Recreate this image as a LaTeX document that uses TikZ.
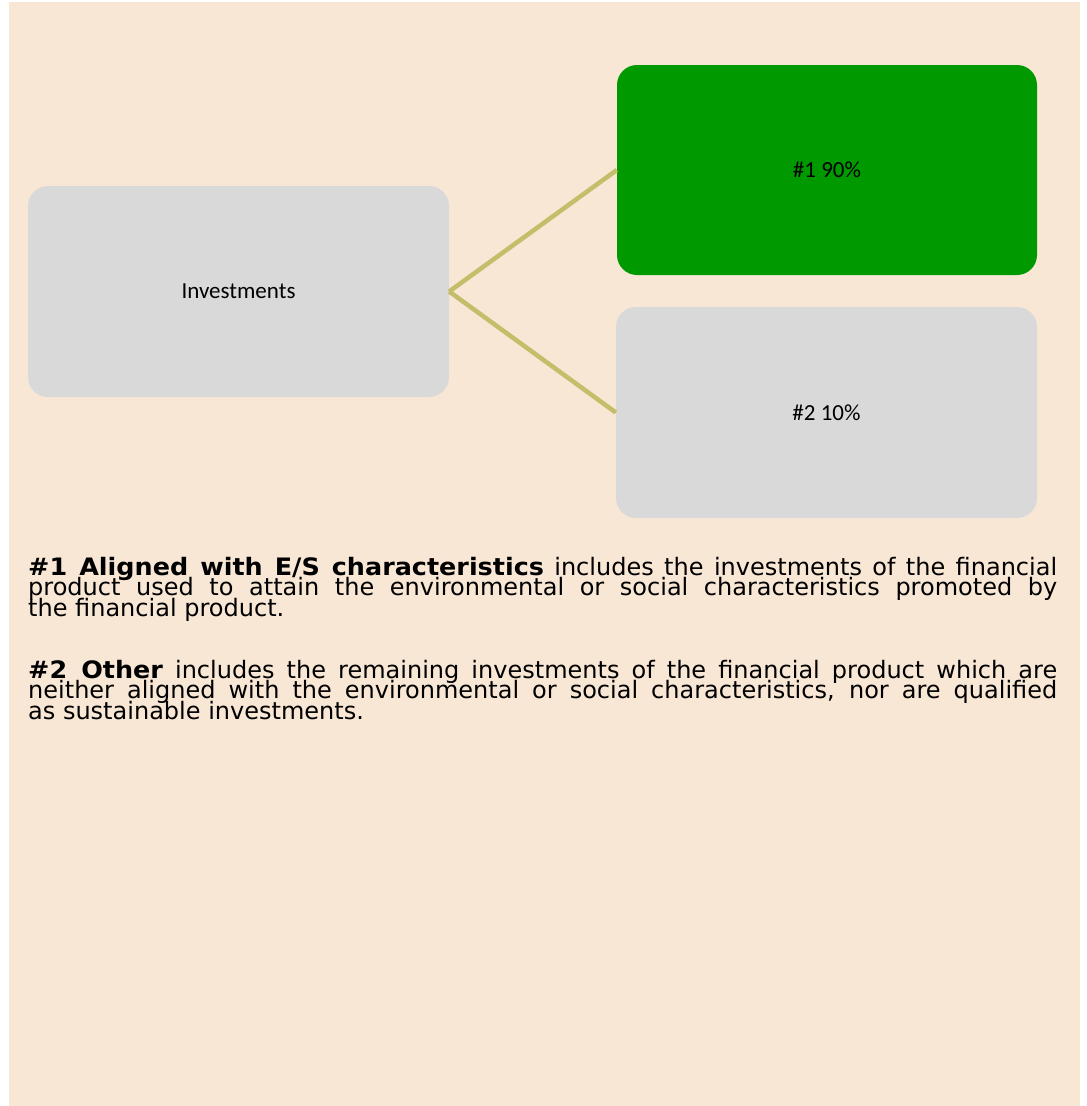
\documentclass[tikz,border=0pt]{standalone}
\usepackage{fontspec}
\setmainfont{DejaVu Sans}[BoldFeatures={FakeStretch=1.06}]
\newfontfamily\labelfont{Carlito}
\usetikzlibrary{positioning}
\definecolor{bgbeige}{RGB}{249,231,214}
\definecolor{boxgray}{RGB}{217,217,217}
\definecolor{boxgreen}{RGB}{0,153,0}
\definecolor{linkolive}{RGB}{196,189,106}

\begin{document}
\begin{tikzpicture}[x=1pt, y=-1pt,
        box/.style={rounded corners=20pt, minimum width=421pt, minimum height=211pt, inner sep=0pt,
            font=\labelfont\fontsize{23}{27}\selectfont, text=black},
        link/.style={line width=4.5pt, linkolive},
        note/.style={anchor=north west, inner sep=0pt, text width=1029pt, align=justify,
            font={\fontsize{24}{20.5}\selectfont\lineskiplimit-50pt\relax}}]

        % Page
        \useasboundingbox (0,0) rectangle (1087,1106);
        \fill[bgbeige] (9,2) rectangle (1080,1106);

        % Boxes
        \node[box, fill=boxgray] (invest) at (238.5,291.5) {Investments};
        \node[box, fill=boxgreen, minimum width=420pt, minimum height=210pt] (aligned) at (827,170) {\#1 90\%};
        \node[box, fill=boxgray] (other) at (826.5,412.5) {\#2 10\%};

        % Links
        \draw[link] (invest.east) -- (aligned.west);
        \draw[link] (invest.east) -- (other.west);

        % Notes
        \node[note] (note1) at (28,557) {\textbf{\#1 Aligned with E/S characteristics} includes the investments of the financial\linebreak
            product used to attain the environmental or social characteristics promoted by\linebreak
            the financial product.};
        \node[note] (note2) at (28,660) {\textbf{\#2 Other} includes the remaining investments of the financial product which are\linebreak
            neither aligned with the environmental or social characteristics, nor are qualified\linebreak
            as sustainable investments.};

    \end{tikzpicture}
\end{document}
